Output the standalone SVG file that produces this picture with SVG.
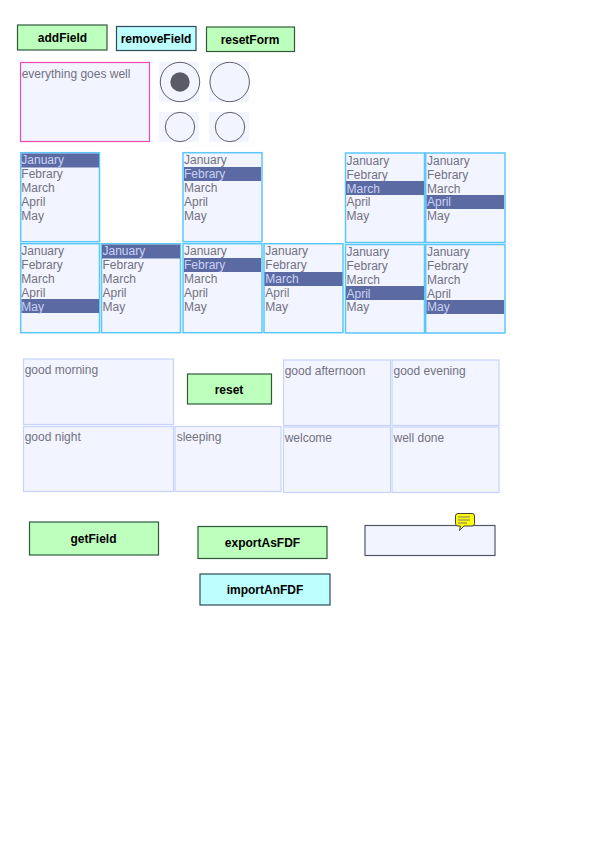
<svg xmlns="http://www.w3.org/2000/svg" width="595" height="842" viewBox="0 0 595 842">
<style>
text{font-family:"Liberation Sans",Arial,sans-serif}
.b{font-size:12px;font-weight:bold;fill:#000;text-anchor:middle}
.t{font-size:12px;fill:#72727f}
.o{font-size:12px;fill:#c9d2f2}
.s{fill:#f2f4ff}
.g{fill:#bdffbd;stroke:#2f5a3a;stroke-width:1.200}
.c{fill:#bdffff;stroke:#2f4a5a;stroke-width:1.200}
.l{fill:#f2f4ff;stroke:#5cc8fa;stroke-width:1.500}
.f{fill:#f2f4ff;stroke:#c6d2fa;stroke-width:1.200}
.h{fill:#5c6aa4}
.r{fill:#f2f4ff;stroke:#5f5f6b;stroke-width:1}
</style>
<g id="addField"><rect class="g" x="17.500" y="25" width="89.500" height="25"/><text class="b" x="62.500" y="42">addField</text></g>
<g id="removeField"><rect class="c" x="116.500" y="26.500" width="79.500" height="24"/><text class="b" x="156" y="43">removeField</text></g>
<g id="resetForm"><rect class="g" x="206.500" y="27" width="88" height="24.500"/><text class="b" x="250" y="44">resetForm</text></g>
<g id="textfield1"><rect x="20.500" y="62.500" width="129" height="79" fill="#f2f4ff" stroke="#e84cb0" stroke-width="1.200"/><text class="t" x="21.700" y="78">everything goes well</text></g>
<g id="radio1"><rect class="s" x="159" y="62" width="40" height="40"/><circle class="r" cx="180" cy="82" r="19.700"/><circle cx="180" cy="82" r="9.700" fill="#5a5a68"/></g>
<g id="radio2"><rect class="s" x="209" y="62" width="40" height="40"/><circle class="r" cx="229.700" cy="82" r="19.700"/></g>
<g id="radio3"><rect class="s" x="159" y="112" width="40" height="30"/><circle class="r" cx="180" cy="127" r="14.700"/></g>
<g id="radio4"><rect class="s" x="209" y="112" width="40" height="30"/><circle class="r" cx="230" cy="127" r="14.700"/></g>
<g id="list1"><rect class="l" x="20.700" y="152.700" width="78.800" height="89"/><rect class="h" x="21.500" y="153.500" width="77.500" height="14"/>
<text class="o" x="21.300" y="164">January</text><text class="t" x="21.300" y="178">Febrary</text><text class="t" x="21.300" y="192">March</text><text class="t" x="21.300" y="206">April</text><text class="t" x="21.300" y="220">May</text></g>
<g id="list2"><rect class="l" x="183" y="152.700" width="79" height="89"/><rect class="h" x="184" y="167" width="77" height="14"/>
<text class="t" x="184" y="164">January</text><text class="o" x="184" y="178">Febrary</text><text class="t" x="184" y="192">March</text><text class="t" x="184" y="206">April</text><text class="t" x="184" y="220">May</text></g>
<g id="list3"><rect class="l" x="345.500" y="153" width="79" height="89.500"/><rect class="h" x="346" y="181" width="78" height="14"/>
<text class="t" x="346.500" y="165">January</text><text class="t" x="346.500" y="179">Febrary</text><text class="o" x="346.500" y="193">March</text><text class="t" x="346.500" y="206">April</text><text class="t" x="346.500" y="220">May</text></g>
<g id="list4"><rect class="l" x="425.700" y="153" width="79.300" height="89.500"/><rect class="h" x="426.500" y="195" width="77.500" height="14"/>
<text class="t" x="427" y="165">January</text><text class="t" x="427" y="179">Febrary</text><text class="t" x="427" y="193">March</text><text class="o" x="427" y="206">April</text><text class="t" x="427" y="220">May</text></g>
<g id="list5"><rect class="l" x="20.700" y="243.700" width="78.800" height="89"/><rect class="h" x="21.500" y="299" width="77.500" height="14"/>
<text class="t" x="21.300" y="255">January</text><text class="t" x="21.300" y="269">Febrary</text><text class="t" x="21.300" y="283">March</text><text class="t" x="21.300" y="297">April</text><text class="o" x="21.300" y="311">May</text></g>
<g id="list6"><rect class="l" x="101.500" y="243.700" width="79" height="89"/><rect class="h" x="102" y="244.500" width="78" height="14"/>
<text class="o" x="102.500" y="255">January</text><text class="t" x="102.500" y="269">Febrary</text><text class="t" x="102.500" y="283">March</text><text class="t" x="102.500" y="297">April</text><text class="t" x="102.500" y="311">May</text></g>
<g id="list7"><rect class="l" x="183" y="243.700" width="79" height="89"/><rect class="h" x="184" y="258" width="77" height="14"/>
<text class="t" x="184" y="255">January</text><text class="o" x="184" y="269">Febrary</text><text class="t" x="184" y="283">March</text><text class="t" x="184" y="297">April</text><text class="t" x="184" y="311">May</text></g>
<g id="list8"><rect class="l" x="264" y="243.700" width="79" height="89"/><rect class="h" x="264.500" y="272" width="78" height="14"/>
<text class="t" x="265.300" y="255">January</text><text class="t" x="265.300" y="269">Febrary</text><text class="o" x="265.300" y="283">March</text><text class="t" x="265.300" y="297">April</text><text class="t" x="265.300" y="311">May</text></g>
<g id="list9"><rect class="l" x="345.500" y="244.500" width="79" height="88.500"/><rect class="h" x="346" y="286" width="78" height="14"/>
<text class="t" x="346.500" y="256">January</text><text class="t" x="346.500" y="270">Febrary</text><text class="t" x="346.500" y="284">March</text><text class="o" x="346.500" y="298">April</text><text class="t" x="346.500" y="311">May</text></g>
<g id="list10"><rect class="l" x="425.700" y="244.500" width="79.300" height="88.500"/><rect class="h" x="426.500" y="300" width="77.500" height="14"/>
<text class="t" x="427" y="256">January</text><text class="t" x="427" y="270">Febrary</text><text class="t" x="427" y="284">March</text><text class="t" x="427" y="298">April</text><text class="o" x="427" y="311">May</text></g>
<g id="field1"><rect class="f" x="23.500" y="359" width="150" height="65.500"/><text class="t" x="24.700" y="374">good morning</text></g>
<g id="reset"><rect class="g" x="187.500" y="374" width="84" height="30"/><text class="b" x="229" y="394">reset</text></g>
<g id="field2"><rect class="f" x="283.500" y="360" width="107" height="65.500"/><text class="t" x="284.700" y="375">good afternoon</text></g>
<g id="field3"><rect class="f" x="392" y="360" width="107" height="65.500"/><text class="t" x="393.500" y="375">good evening</text></g>
<g id="field4"><rect class="f" x="23.500" y="426.500" width="150" height="65"/><text class="t" x="24.700" y="441">good night</text></g>
<g id="field5"><rect class="f" x="175" y="426.500" width="106" height="65"/><text class="t" x="176.700" y="441">sleeping</text></g>
<g id="field6"><rect class="f" x="283.500" y="427" width="107" height="65.500"/><text class="t" x="284.700" y="442">welcome</text></g>
<g id="field7"><rect class="f" x="392" y="427" width="107" height="65.500"/><text class="t" x="393.500" y="442">well done</text></g>
<g id="getField"><rect class="g" x="29.500" y="522" width="129" height="33"/><text class="b" x="93.500" y="543">getField</text></g>
<g id="exportAsFDF"><rect class="g" x="198" y="526.500" width="129" height="32"/><text class="b" x="262.500" y="547">exportAsFDF</text></g>
<g id="importAnFDF"><rect class="c" x="200" y="574" width="130" height="31"/><text class="b" x="265" y="594">importAnFDF</text></g>
<g id="commentField"><rect x="365" y="525.500" width="130" height="30" fill="#f2f4ff" stroke="#55556a" stroke-width="1.200"/>
<path d="M458 513.500h14a2.500 2.500 0 0 1 2.500 2.500v7.500a2.500 2.500 0 0 1-2.500 2.500h-8l-4.500 4.500 1-4.500h-2.500a2.500 2.500 0 0 1-2.500-2.500v-7.500a2.500 2.500 0 0 1 2.500-2.500z" fill="#ffff00" stroke="#444" stroke-width="1"/>
<path d="M458 517h12M458 520h12M458 523h9" stroke="#777" stroke-width="1" fill="none"/></g>
</svg>
